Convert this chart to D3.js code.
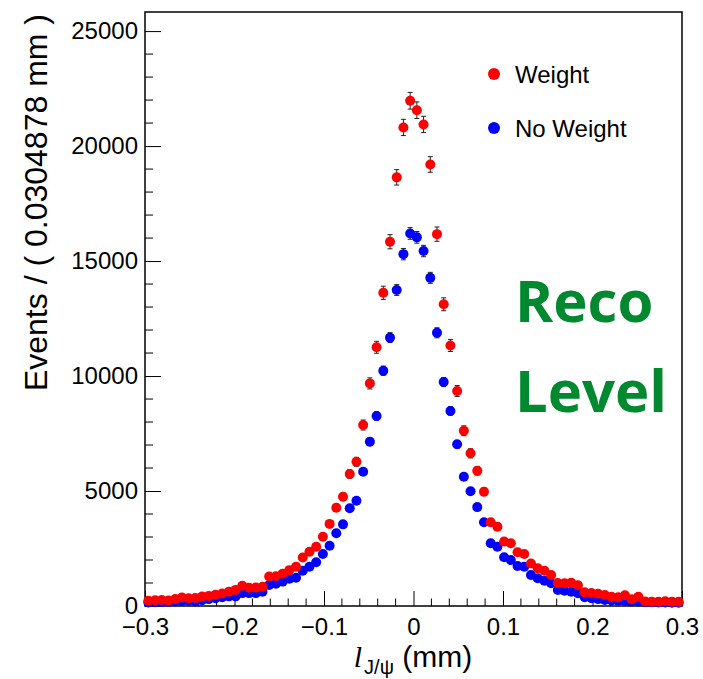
<!DOCTYPE html>
<html>
<head>
<meta charset="utf-8">
<script src="https://cdn.jsdelivr.net/npm/d3@7"></script>
<style>
  body { margin: 0; background: #fff; }
  text { font-family: "Liberation Sans", Arial, sans-serif; }
</style>
</head>
<body>
<svg width="703" height="679"></svg>
<script>
// histogram binning (80 bins over the range)
var nBins = 80, xLow = -0.3, xHigh = 0.3;

// bin contents
var weighted = [
  230, 250, 260, 240, 300, 370, 340, 350, 410, 440,
  490, 540, 620, 700, 880, 790, 800, 840, 1280, 1290,
  1400, 1560, 1710, 2110, 2360, 2580, 3010, 3570, 4270, 4750,
  5740, 6270, 7870, 9680, 11250, 13620, 15840, 18640, 20810, 21970,
  21560, 20940, 19200, 16170, 13120, 11330, 9350, 7620, 6640, 5880,
  4970, 3640, 3450, 2800, 2730, 2340, 2260, 1850, 1640, 1535,
  1350, 1000, 990, 1010, 900, 600, 565, 530, 480, 400,
  380, 470, 290, 400, 200, 190, 190, 210, 190, 190
];
var unweighted = [
  150, 160, 170, 180, 200, 220, 230, 200, 250, 300,
  340, 380, 420, 420, 560, 560, 560, 620, 913, 970,
  1060, 1190, 1230, 1530, 1710, 1900, 2260, 2620, 3160, 3550,
  4250, 4580, 5840, 7140, 8260, 10230, 11670, 13740, 15300, 16200,
  16030, 15435, 14270, 11880, 9740, 8480, 7030, 5620, 4990, 4300,
  3640, 2730, 2580, 2120, 2000, 1740, 1710, 1350, 1204, 1100,
  987, 696, 660, 620, 552, 380, 335, 300, 260, 240,
  230, 220, 200, 200, 170, 160, 150, 150, 140, 140
];

// error bar scale per series (errors ~ k * sqrt(N))
var errWeighted = 2.45, errUnweighted = 2.0;

var xMajorTicks = [-0.3, -0.2, -0.1, 0, 0.1, 0.2, 0.3];
var yMajorTicks = [0, 5000, 10000, 15000, 20000, 25000];

var svg = d3.select("svg");

var frame = { left: 145, right: 682, top: 12, bottom: 606 };

var x = d3.scaleLinear().domain([xLow, xHigh]).range([frame.left, frame.right]);
var y = d3.scaleLinear().domain([0, 25830]).range([frame.bottom, frame.top]);

var binWidth = (xHigh - xLow) / nBins;
function center(i) { return xLow + (i + 0.5) * binWidth; }

// frame
svg.append("rect")
    .attr("x", frame.left).attr("y", frame.top)
    .attr("width", frame.right - frame.left)
    .attr("height", frame.bottom - frame.top)
    .attr("fill", "none").attr("stroke", "#000").attr("stroke-width", 1.5);

// minor ticks
var xMinor = d3.range(-0.28, 0.3, 0.02).filter(function(v) {
  return Math.abs(v * 10 - Math.round(v * 10)) > 1e-6;
});
svg.append("g").selectAll("line").data(xMinor).enter().append("line")
    .attr("x1", function(d) { return x(d); }).attr("x2", function(d) { return x(d); })
    .attr("y1", frame.bottom).attr("y2", frame.bottom - 7.5)
    .attr("stroke", "#000").attr("stroke-width", 1);

var yMinor = d3.range(1000, 25001, 1000).filter(function(v) { return v % 5000 !== 0; });
svg.append("g").selectAll("line").data(yMinor).enter().append("line")
    .attr("x1", frame.left).attr("x2", frame.left + 8)
    .attr("y1", function(d) { return y(d); }).attr("y2", function(d) { return y(d); })
    .attr("stroke", "#000").attr("stroke-width", 1);

// major axes
var xAxis = d3.axisBottom(x).tickValues(xMajorTicks)
    .tickSizeInner(-15).tickSizeOuter(0).tickPadding(12)
    .tickFormat(function(d) { return d === 0 ? "0" : d3.format(".1f")(d); });
var gx = svg.append("g").attr("transform", "translate(0," + frame.bottom + ")").call(xAxis);
gx.select(".domain").remove();
gx.selectAll("line").attr("stroke-width", 1);
gx.selectAll("text").attr("font-size", 24).attr("fill", "#000")
    .style("font-family", "'Liberation Sans', Arial, sans-serif");

var yAxis = d3.axisLeft(y).tickValues(yMajorTicks)
    .tickSizeInner(-16).tickSizeOuter(0).tickPadding(7)
    .tickFormat(d3.format("d"));
var gy = svg.append("g").attr("transform", "translate(" + frame.left + ",0)").call(yAxis);
gy.select(".domain").remove();
gy.selectAll("line").attr("stroke-width", 1);
gy.selectAll("text").attr("font-size", 24).attr("fill", "#000")
    .style("font-family", "'Liberation Sans', Arial, sans-serif");

// axis titles
svg.append("text")
    .attr("transform", "translate(47,14) rotate(-90)")
    .attr("text-anchor", "end")
    .attr("font-size", 32)
    .text("Events / ( 0.0304878 mm )");

var xt = svg.append("text")
    .attr("x", 413).attr("y", 667)
    .attr("text-anchor", "middle")
    .attr("font-size", 30);
xt.append("tspan").attr("font-style", "italic")
    .style("font-family", "'Liberation Serif', serif").text("l");
xt.append("tspan").attr("font-size", 20).attr("dy", 7).attr("dx", 2).text("J/ψ");
xt.append("tspan").attr("dy", -7).text(" (mm)");

// data series
function drawSeries(values, k, colour) {
  var g = svg.append("g");
  var pts = values.map(function(v, i) { return { x: center(i), v: v, e: k * Math.sqrt(v) }; });
  var bars = g.selectAll("g.err").data(pts).enter().append("g").attr("class", "err")
      .attr("stroke", "#222").attr("stroke-width", 1);
  bars.append("line")
      .attr("x1", function(d) { return x(d.x); }).attr("x2", function(d) { return x(d.x); })
      .attr("y1", function(d) { return y(d.v + d.e); }).attr("y2", function(d) { return y(d.v - d.e); });
  bars.append("line")
      .attr("x1", function(d) { return x(d.x) - 2.5; }).attr("x2", function(d) { return x(d.x) + 2.5; })
      .attr("y1", function(d) { return y(d.v + d.e); }).attr("y2", function(d) { return y(d.v + d.e); });
  bars.append("line")
      .attr("x1", function(d) { return x(d.x) - 2.5; }).attr("x2", function(d) { return x(d.x) + 2.5; })
      .attr("y1", function(d) { return y(d.v - d.e); }).attr("y2", function(d) { return y(d.v - d.e); });
  g.selectAll("circle").data(pts).enter().append("circle")
      .attr("cx", function(d) { return x(d.x); })
      .attr("cy", function(d) { return y(d.v); })
      .attr("r", 5)
      .attr("fill", colour);
}
drawSeries(unweighted, errUnweighted, "#0000ff");
drawSeries(weighted, errWeighted, "#ff0000");

// legend
var legend = [
  { label: "Weight", colour: "#ff0000", y: 74 },
  { label: "No Weight", colour: "#0000ff", y: 128 }
];
var lg = svg.append("g").selectAll("g").data(legend).enter().append("g");
lg.append("circle").attr("cx", 494).attr("cy", function(d) { return d.y; })
    .attr("r", 6).attr("fill", function(d) { return d.colour; });
lg.append("text").attr("x", 515).attr("y", function(d) { return d.y + 8.5; })
    .attr("font-size", 24).text(function(d) { return d.label; });

// annotation
svg.append("text").attr("x", 515).attr("y", 322)
    .style("font-family", "'Open Sans', sans-serif").attr("font-weight", "bold")
    .attr("font-size", 58).attr("fill", "#00892f").text("Reco");
svg.append("text").attr("x", 515).attr("y", 412)
    .style("font-family", "'Open Sans', sans-serif").attr("font-weight", "bold")
    .attr("font-size", 58).attr("fill", "#00892f").text("Level");
</script>
</body>
</html>
